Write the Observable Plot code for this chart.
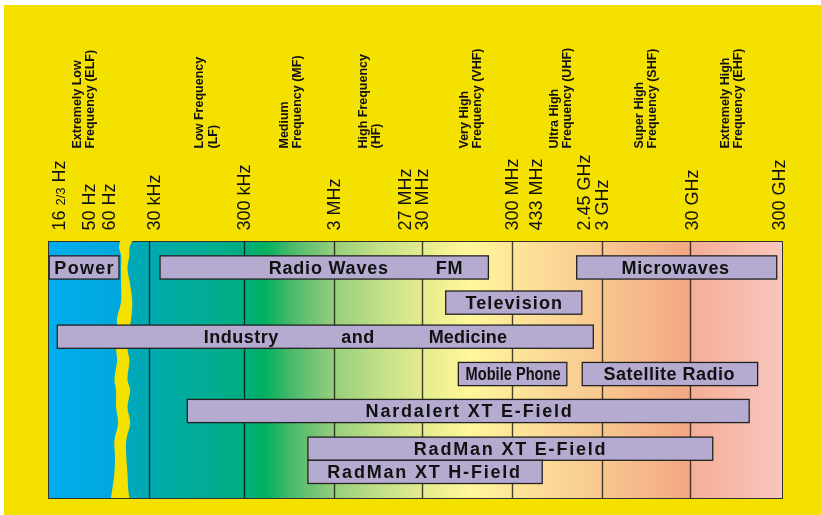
<!DOCTYPE html>
<html>
<head>
<meta charset="utf-8">
<script src="https://cdn.jsdelivr.net/npm/d3@7"></script>
<script src="https://cdn.jsdelivr.net/npm/@observablehq/plot@0.6"></script>
<style>body{margin:0;background:#fff}</style>
</head>
<body>
<div id="chart"></div>
<script>
// ---------- data (frequencies in Hz) ----------
const tickLabels = ["16 2/3 Hz","50 Hz","60 Hz","30 kHz","300 kHz","3 MHz","27 MHz","30 MHz","300 MHz","433 MHz","2.45 GHz","3 GHz","30 GHz","300 GHz"];
const tickFreqs  = [16.67, 50, 60, 3e4, 3e5, 3e6, 2.7e7, 3e7, 3e8, 4.33e8, 2.45e9, 3e9, 3e10, 3e11];

const bandNames = ["Extremely Low\nFrequency (ELF)","Low Frequency\n(LF)","Medium\nFrequency (MF)","High Frequency\n(HF)","Very High\nFrequency (VHF)","Ultra High\nFrequency (UHF)","Super High\nFrequency (SHF)","Extremely High\nFrequency (EHF)"];
const bandLabelFreqs = [30.8, 1.17e5, 9.7e5, 7.5e6, 1.01e8, 1.01e9, 9.1e9, 8.3e10];
const boundaryFreqs = [3e4, 3e5, 3e6, 3e7, 3e8, 3e9, 3e10];

const appNames = ["Power","Radio Waves","Microwaves","Television","Industry and Medicine","Mobile Phone","Satellite Radio","Nardalert XT E-Field","RadMan XT E-Field","RadMan XT H-Field"];
const appLow   = [13, 3.92e4, 1.57e9, 5.5e7, 16, 7.6e7, 1.81e9, 7.6e4, 1.54e6, 1.54e6];
const appHigh  = [78.7, 1.64e8, 2.63e11, 1.79e9, 2.4e9, 1.22e9, 1.63e11, 1.32e11, 5.3e10, 6.5e8];
const appLane  = [1, 1, 1, 1.97, 2.91, 3.94, 3.94, 4.96, 6, 6.64];

// words set individually inside the two long bars
const wordTexts = ["Radio Waves","FM","Industry","and","Medicine"];
const wordFreqs = [2.59e6, 6.0e7, 2.78e5, 5.55e6, 9.6e7];
const wordLanes = [1, 1, 2.91, 2.91, 2.91];
const splitBars = ["Radio Waves","Industry and Medicine"];

// background colour of the spectrum
const spectrumFreqs  = [12.6, 92, 92, 3e4, 3e5, 5e5, 1e6, 3e6, 1e7, 3e7, 1e8, 3e8, 1e9, 3e9, 3e10, 3e10, 3e11];
const spectrumColors = ["#00AEEF","#00A7D9","#00A8BE","#00AAAF","#00AE80","#00B05E","#4BB96C","#97CE7C","#C3E087","#E4EB8E","#FFF799","#FDE699","#FAD595","#F8C78F","#F3A683","#F5AE96","#F8C6BE"];

// torn axis break (lane, low Hz, high Hz)
const breakLanes = [0.27,0.46,0.66,1.02,1.48,1.95,2.39,2.73,3.25,3.55,4.10,4.38,4.85,5.29,5.76,6.23,6.67,7.14,7.36];
const breakLo    = [81,79,83,83,83,83,75,75,73,75,70,73,73,77,70,71,70,66,64];
const breakHi    = [111,103,103,98,105,111,108,103,98,103,98,105,98,105,95,95,98,100,103];

// ---------- styling / layout ----------
const YELLOW = "#F5E100";
const BAR_HALF = 0.32;
const xDomain = [12.6, 113, 2e4, 3e4, 3e5, 3e6, 3e7, 3e8, 3e9, 3e10, 3e11];
const xRange  = [48, 133, 133, 149, 244, 334, 422, 512, 602, 690, 782];
const tickNudge = {"50 Hz": -13, "30 kHz": 5, "27 MHz": -13, "433 MHz": 9, "2.45 GHz": -10, "30 GHz": 2, "300 GHz": -3};
const FONT = "'Liberation Sans', Arial, Helvetica, sans-serif";

const apps = appNames.map((name, i) => ({name, lo: appLow[i], hi: appHigh[i], lane: appLane[i]}));
const barLabels = apps.filter(d => !splitBars.includes(d.name))
  .map(d => ({text: d.name, f: Math.sqrt(d.lo * d.hi), lane: d.lane}))
  .concat(wordTexts.map((t, i) => ({text: t, f: wordFreqs[i], lane: wordLanes[i]})));
const ticks = tickLabels.map((label, i) => ({label, f: tickFreqs[i]}));
const bands = bandNames.map((name, i) => ({name, f: bandLabelFreqs[i]}));
const breakData = breakLanes.map((lane, i) => ({lane, lo: breakLo[i], hi: breakHi[i]}));

const plot = Plot.plot({
  width: 821, height: 515,
  marginTop: 241, marginBottom: 17, marginLeft: 48, marginRight: 39,
  style: {
    background: `linear-gradient(to right, #fff 4px, transparent 4px), linear-gradient(to bottom, #fff 5px, ${YELLOW} 5px)`,
    fontFamily: FONT, overflow: "visible"
  },
  x: {type: "log", domain: xDomain, range: xRange, axis: null},
  y: {domain: [0.27, 7.36], reverse: true, axis: null},
  marks: [
    Plot.frame({fill: "url(#spectrum)"}),
    Plot.frame({stroke: "#333", strokeWidth: 1}),
    Plot.ruleX(boundaryFreqs, {stroke: "#474747", strokeWidth: 1.4, mixBlendMode: "multiply"}),
    Plot.areaX(breakData, {y: "lane", x1: "lo", x2: "hi", fill: YELLOW, curve: "catmull-rom"}),
    Plot.rect(apps, {x1: "lo", x2: "hi", y1: d => d.lane - BAR_HALF, y2: d => d.lane + BAR_HALF,
      fill: "#B5AACF", stroke: "#222", strokeWidth: 1.3}),
    Plot.text(barLabels, {x: "f", y: "lane", text: "text", fontSize: 18, fontWeight: "bold",
      fill: "#111", fontFamily: FONT}),
    ticks.map(d => Plot.text([d], {x: "f", text: "label", frameAnchor: "top", lineAnchor: "middle", dy: -11,
      dx: tickNudge[d.label] || 0, rotate: -90, textAnchor: "start", fontSize: 18, fill: "#111", fontFamily: FONT})),
    Plot.text(bands, {x: "f", text: "name", frameAnchor: "top", lineAnchor: "middle", dy: -93, rotate: -90,
      textAnchor: "start", lineHeight: 1.07, fontSize: 12.5, fontWeight: "bold", fill: "#111", fontFamily: FONT})
  ]
});

// spectrum gradient, positioned by the x scale
const xs = plot.scale("x");
const X0 = xs.apply(xDomain[0]), X1 = xs.apply(xDomain[xDomain.length - 1]);
const grad = d3.select(plot).insert("defs", ":first-child")
  .append("linearGradient").attr("id", "spectrum")
  .attr("x1", 0).attr("x2", 1).attr("y1", 0).attr("y2", 0);
spectrumFreqs.forEach((f, i) => {
  grad.append("stop").attr("offset", (xs.apply(f) - X0) / (X1 - X0)).attr("stop-color", spectrumColors[i]);
});

// typographic touches
const spacing = {"Power": 1.3, "Radio Waves": 0.8, "FM": 0.8, "Television": 1.1, "Microwaves": 0.6,
  "Satellite Radio": 0.5, "Industry": 0.5, "and": 0.5, "Medicine": 0.2,
  "Nardalert XT E-Field": 1.8, "RadMan XT E-Field": 1.8, "RadMan XT H-Field": 1.8};
d3.select(plot).selectAll("text").each(function() {
  const t = this.textContent;
  if (t in spacing) this.style.letterSpacing = spacing[t] + "px";
  if (t === "Mobile Phone") {
    this.setAttribute("textLength", 95);
    this.setAttribute("lengthAdjust", "spacingAndGlyphs");
  }
  if (t === "16 2/3 Hz") {
    this.textContent = "";
    const s = d3.select(this);
    s.append("tspan").text("16 ");
    s.append("tspan").attr("font-size", 13).text("2/3");
    s.append("tspan").text(" Hz");
  }
});

document.getElementById("chart").appendChild(plot);
</script>
</body>
</html>
